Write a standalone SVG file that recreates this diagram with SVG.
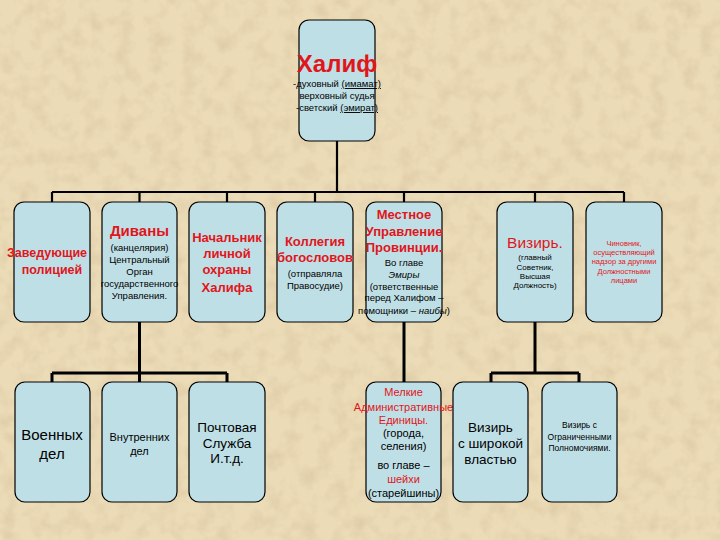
<svg xmlns="http://www.w3.org/2000/svg" width="720" height="540" viewBox="0 0 720 540">
<defs>
<filter id="paper" x="0" y="0" width="100%" height="100%">
<feTurbulence type="fractalNoise" baseFrequency="0.06" numOctaves="3" seed="4" result="n"/>
<feColorMatrix in="n" type="matrix" values="0 0 0 0 0.6  0 0 0 0 0.48  0 0 0 0 0.28  0 0 0 0.9 -0.38" result="c"/>
<feComposite in="c" in2="SourceGraphic" operator="over"/>
</filter>
<style>
.box{fill:#BFDFE6;stroke:#000;stroke-width:1.2}
.ln{stroke:#000;stroke-width:2.2;fill:none}
.ln2{stroke:#000;stroke-width:3;fill:none}
text{font-family:"Liberation Sans",Arial,sans-serif;text-anchor:middle;fill:#000}
.rb{fill:#E0161B;font-weight:bold}
.r{fill:#E0161B}
.u{text-decoration:underline}
</style>
</defs>
<rect width="720" height="540" fill="#EBDBB6" filter="url(#paper)"/>

<g id="connectors">
<path class="ln" d="M337 141V192M52 192H624M52 192V202M139.5 192V202M227 192V202M315 192V202M404 192V202M535 192V202M624 192V202"/>
<path class="ln2" d="M139.5 322V373M52 373H227M52 373V382M139.5 373V382M227 373V382"/>
<path class="ln2" d="M404 322V382"/>
<path class="ln2" d="M535 322V373M491 373H579M491 373V382M579 373V382"/>
</g>

<g id="n-halif">
<rect class="box" x="299" y="20" width="76" height="121" rx="10"/>
<text x="337" y="72" class="rb" font-size="24">Халиф</text>
<text x="337" y="87" font-size="9.5">-духовный <tspan class="u">(имамат)</tspan></text>
<text x="337" y="99" font-size="9.5">верховный судья</text>
<text x="337" y="111" font-size="9.5">-светский <tspan class="u">(эмират)</tspan></text>
</g>

<g id="n-police">
<rect class="box" x="14" y="202" width="76" height="120" rx="10"/>
<text x="47" y="257" class="rb" font-size="12.5">Заведующие</text>
<text x="52" y="274" class="rb" font-size="12.5">полицией</text>
</g>

<g id="n-divany">
<rect class="box" x="102" y="202" width="75" height="120" rx="10"/>
<text x="139.5" y="236" class="rb" font-size="15">Диваны</text>
<text x="139.5" y="251" font-size="9.5">(канцелярия)</text>
<text x="139.5" y="263" font-size="9.5">Центральный</text>
<text x="139.5" y="275" font-size="9.5">Орган</text>
<text x="139.5" y="287" font-size="9.5">государственного</text>
<text x="139.5" y="299" font-size="9.5">Управления.</text>
</g>

<g id="n-guard">
<rect class="box" x="189" y="202" width="76" height="120" rx="10"/>
<text x="227" y="242" class="rb" font-size="13">Начальник</text>
<text x="227" y="258" class="rb" font-size="13">личной</text>
<text x="227" y="274" class="rb" font-size="13">охраны</text>
<text x="227" y="292" class="rb" font-size="13">Халифа</text>
</g>

<g id="n-college">
<rect class="box" x="277" y="202" width="76" height="120" rx="10"/>
<text x="315" y="246" class="rb" font-size="13">Коллегия</text>
<text x="315" y="262" class="rb" font-size="13">богословов</text>
<text x="315" y="277" font-size="9.5">(отправляла</text>
<text x="315" y="289" font-size="9.5">Правосудие)</text>
</g>

<g id="n-local">
<rect class="box" x="366" y="202" width="76" height="120" rx="10"/>
<text x="404" y="219" class="rb" font-size="13">Местное</text>
<text x="404" y="236" class="rb" font-size="13">Управление</text>
<text x="404" y="252" class="rb" font-size="13">Провинции.</text>
<text x="404" y="266" font-size="9.5">Во главе</text>
<text x="404" y="278" font-size="9.5" font-style="italic">Эмиры</text>
<text x="404" y="290" font-size="9.5">(ответственные</text>
<text x="404" y="301" font-size="9.5">перед Халифом –</text>
<text x="404" y="314" font-size="9.5">помощники – <tspan font-style="italic">наибы</tspan>)</text>
</g>

<g id="n-vizier">
<rect class="box" x="497" y="202" width="76" height="120" rx="10"/>
<text x="535" y="248" class="r" font-size="15.5">Визирь.</text>
<text x="535" y="260" font-size="8">(главный</text>
<text x="535" y="270" font-size="8">Советник,</text>
<text x="535" y="279" font-size="8">Высшая</text>
<text x="535" y="288" font-size="8">Должность)</text>
</g>

<g id="n-official">
<rect class="box" x="586" y="202" width="76" height="120" rx="10"/>
<text x="624" y="246" class="r" font-size="7.5">Чиновник,</text>
<text x="624" y="255" class="r" font-size="7.5">осуществляющий</text>
<text x="624" y="264" class="r" font-size="7.5">надзор за другими</text>
<text x="624" y="274" class="r" font-size="7.5">Должностными</text>
<text x="624" y="283" class="r" font-size="7.5">лицами</text>
</g>

<g id="n-military">
<rect class="box" x="15" y="382" width="75" height="120" rx="10"/>
<text x="52" y="440" font-size="15">Военных</text>
<text x="52" y="459" font-size="15">дел</text>
</g>

<g id="n-internal">
<rect class="box" x="102" y="382" width="75" height="120" rx="10"/>
<text x="139.5" y="441" font-size="11">Внутренних</text>
<text x="139.5" y="455" font-size="11">дел</text>
</g>

<g id="n-post">
<rect class="box" x="189" y="382" width="76" height="120" rx="10"/>
<text x="227" y="432" font-size="13.5">Почтовая</text>
<text x="227" y="448" font-size="13.5">Служба</text>
<text x="227" y="463" font-size="13.5">И.т.д.</text>
</g>

<g id="n-small">
<rect class="box" x="366" y="382" width="75" height="120" rx="10"/>
<text x="403.5" y="396" class="r" font-size="11">Мелкие</text>
<text x="403.5" y="411" class="r" font-size="11">Административные</text>
<text x="403.5" y="424" class="r" font-size="11">Единицы.</text>
<text x="403.5" y="437" font-size="11">(города,</text>
<text x="403.5" y="450" font-size="11">селения)</text>
<text x="403.5" y="469" font-size="11">во главе –</text>
<text x="403.5" y="483" class="r" font-size="11">шейхи</text>
<text x="403.5" y="497" font-size="11">(старейшины)</text>
</g>

<g id="n-vizier-wide">
<rect class="box" x="453" y="382" width="75" height="120" rx="10"/>
<text x="490.5" y="432" font-size="13.5">Визирь</text>
<text x="490.5" y="448" font-size="13.5">с широкой</text>
<text x="490.5" y="464" font-size="13.5">властью</text>
</g>

<g id="n-vizier-limited">
<rect class="box" x="542" y="382" width="75" height="120" rx="10"/>
<text x="579.5" y="428" font-size="8.5">Визирь с</text>
<text x="579.5" y="440" font-size="8.5">Ограниченными</text>
<text x="579.5" y="451" font-size="8.5">Полномочиями.</text>
</g>
</svg>
